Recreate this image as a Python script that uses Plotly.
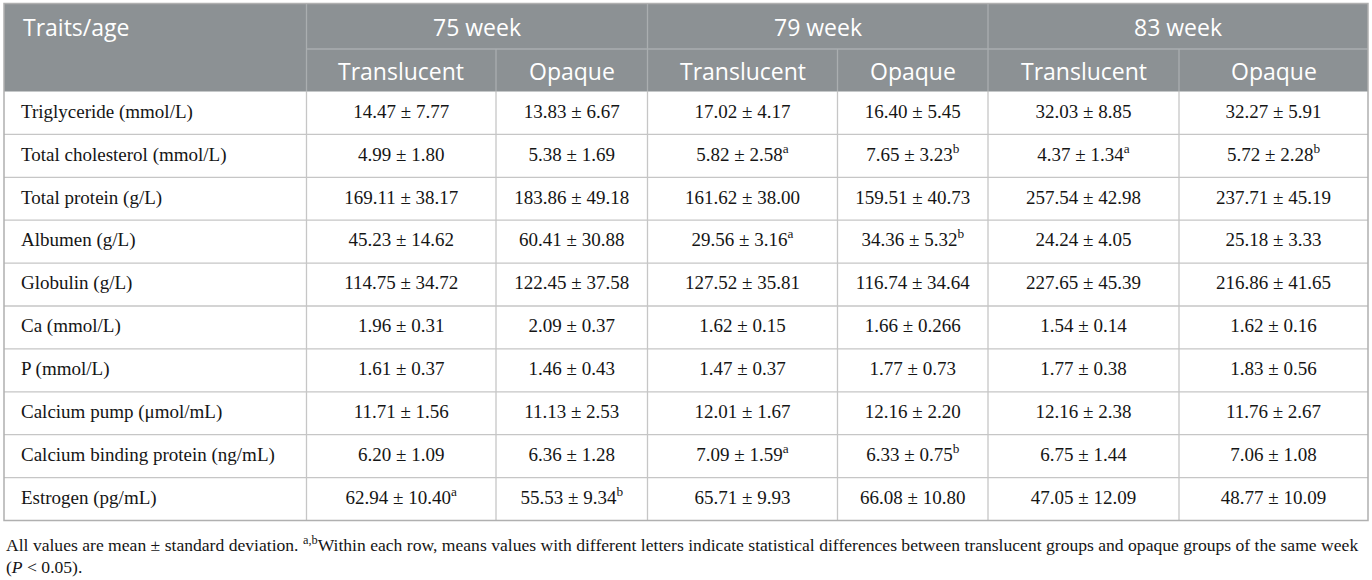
import plotly.graph_objects as go

# ---------------- data ----------------
traits = [
    "Triglyceride (mmol/L)",
    "Total cholesterol (mmol/L)",
    "Total protein (g/L)",
    "Albumen (g/L)",
    "Globulin (g/L)",
    "Ca (mmol/L)",
    "P (mmol/L)",
    "Calcium pump (\u03bcmol/mL)",
    "Calcium binding protein (ng/mL)",
    "Estrogen (pg/mL)",
]
weeks = ["75 week", "79 week", "83 week"]
groups = ["Translucent", "Opaque"]
header_label = "Traits/age"

w75_translucent = ["14.47 \u00b1 7.77", "4.99 \u00b1 1.80", "169.11 \u00b1 38.17", "45.23 \u00b1 14.62",
                   "114.75 \u00b1 34.72", "1.96 \u00b1 0.31", "1.61 \u00b1 0.37", "11.71 \u00b1 1.56",
                   "6.20 \u00b1 1.09", "62.94 \u00b1 10.40"]
w75_opaque = ["13.83 \u00b1 6.67", "5.38 \u00b1 1.69", "183.86 \u00b1 49.18", "60.41 \u00b1 30.88",
              "122.45 \u00b1 37.58", "2.09 \u00b1 0.37", "1.46 \u00b1 0.43", "11.13 \u00b1 2.53",
              "6.36 \u00b1 1.28", "55.53 \u00b1 9.34"]
w79_translucent = ["17.02 \u00b1 4.17", "5.82 \u00b1 2.58", "161.62 \u00b1 38.00", "29.56 \u00b1 3.16",
                   "127.52 \u00b1 35.81", "1.62 \u00b1 0.15", "1.47 \u00b1 0.37", "12.01 \u00b1 1.67",
                   "7.09 \u00b1 1.59", "65.71 \u00b1 9.93"]
w79_opaque = ["16.40 \u00b1 5.45", "7.65 \u00b1 3.23", "159.51 \u00b1 40.73", "34.36 \u00b1 5.32",
              "116.74 \u00b1 34.64", "1.66 \u00b1 0.266", "1.77 \u00b1 0.73", "12.16 \u00b1 2.20",
              "6.33 \u00b1 0.75", "66.08 \u00b1 10.80"]
w83_translucent = ["32.03 \u00b1 8.85", "4.37 \u00b1 1.34", "257.54 \u00b1 42.98", "24.24 \u00b1 4.05",
                   "227.65 \u00b1 45.39", "1.54 \u00b1 0.14", "1.77 \u00b1 0.38", "12.16 \u00b1 2.38",
                   "6.75 \u00b1 1.44", "47.05 \u00b1 12.09"]
w83_opaque = ["32.27 \u00b1 5.91", "5.72 \u00b1 2.28", "237.71 \u00b1 45.19", "25.18 \u00b1 3.33",
              "216.86 \u00b1 41.65", "1.62 \u00b1 0.16", "1.83 \u00b1 0.56", "11.76 \u00b1 2.67",
              "7.06 \u00b1 1.08", "48.77 \u00b1 10.09"]

# significance letters (superscripts)
w75_translucent_sig = ["", "", "", "", "", "", "", "", "", "a"]
w75_opaque_sig = ["", "", "", "", "", "", "", "", "", "b"]
w79_translucent_sig = ["", "a", "", "a", "", "", "", "", "a", ""]
w79_opaque_sig = ["", "b", "", "b", "", "", "", "", "b", ""]
w83_translucent_sig = ["", "a", "", "", "", "", "", "", "", ""]
w83_opaque_sig = ["", "b", "", "", "", "", "", "", "", ""]

footnote_1 = ("All values are mean \u00b1 standard deviation. <sup>a,b</sup>Within each row, means values with "
              "different letters indicate statistical differences between translucent groups and opaque groups of the same week")
footnote_2 = "(<i>P</i> &lt; 0.05)."

value_columns = [w75_translucent, w75_opaque, w79_translucent, w79_opaque, w83_translucent, w83_opaque]
sig_columns = [w75_translucent_sig, w75_opaque_sig, w79_translucent_sig, w79_opaque_sig,
               w83_translucent_sig, w83_opaque_sig]

# ---------------- layout constants ----------------
W, H = 1372, 580
X0 = 4
col_widths = [302.5, 189.5, 151.5, 190, 150.5, 191, 189]
edges = [X0]
for cw in col_widths:
    edges.append(edges[-1] + cw)
TOP = 3.5
MID = 49
HB = 91.5
ROW_H = (520.5 - HB) / len(traits)
BOTTOM = HB + ROW_H * len(traits)

HEADER_BG = "#8c9194"
HEADER_LINE = "#aaaeb0"
GRID = "#c6c6c6"
BORDER = "#b0b0b0"
SERIF = "Liberation Serif"
SANS = "Open Sans"
HFS = 23
DFS = 19
FFS = 17.6

shapes = []
shapes.append(dict(type="rect", xref="x", yref="y", x0=edges[0], x1=edges[-1], y0=TOP, y1=HB,
                   fillcolor=HEADER_BG, line=dict(width=0), layer="below"))
shapes.append(dict(type="line", xref="x", yref="y", x0=edges[1], x1=edges[-1], y0=MID, y1=MID,
                   line=dict(color=HEADER_LINE, width=1.3)))
for i in range(1, len(edges) - 1):
    y0 = TOP if i % 2 == 1 else MID
    shapes.append(dict(type="line", xref="x", yref="y", x0=edges[i], x1=edges[i], y0=y0, y1=HB,
                       line=dict(color=HEADER_LINE, width=1.3)))
for r in range(1, len(traits)):
    y = HB + r * ROW_H
    shapes.append(dict(type="line", xref="x", yref="y", x0=edges[0], x1=edges[-1], y0=y, y1=y,
                       line=dict(color=GRID, width=1.3)))
for i in range(1, len(edges) - 1):
    shapes.append(dict(type="line", xref="x", yref="y", x0=edges[i], x1=edges[i], y0=HB, y1=BOTTOM,
                       line=dict(color=GRID, width=1.3)))
shapes.append(dict(type="rect", xref="x", yref="y", x0=edges[0], x1=edges[-1], y0=TOP, y1=BOTTOM,
                   line=dict(color=BORDER, width=1.5), fillcolor="rgba(0,0,0,0)"))

annotations = []
annotations.append(dict(x=edges[0] + 17, y=(TOP + MID) / 2 + 1, xref="x", yref="y", text=header_label,
                        showarrow=False, xanchor="left", yanchor="middle",
                        font=dict(family=SANS, size=HFS, color="white")))
for k, wk in enumerate(weeks):
    xc = (edges[1 + 2 * k] + edges[3 + 2 * k]) / 2
    annotations.append(dict(x=xc, y=(TOP + MID) / 2 + 1, xref="x", yref="y", text=wk, showarrow=False,
                            xanchor="center", yanchor="middle",
                            font=dict(family=SANS, size=HFS, color="white")))
    for g, grp in enumerate(groups):
        c = 1 + 2 * k + g
        xg = (edges[c] + edges[c + 1]) / 2
        annotations.append(dict(x=xg, y=(MID + HB) / 2 + 1, xref="x", yref="y", text=grp,
                                showarrow=False, xanchor="center", yanchor="middle",
                                font=dict(family=SANS, size=HFS, color="white")))

fig = go.Figure()

row_centers = [HB + (r + 0.5) * ROW_H for r in range(len(traits))]
fig.add_trace(go.Scatter(x=[edges[0] + 17] * len(traits), y=row_centers, mode="text", text=traits,
                         textposition="middle right",
                         textfont=dict(family=SERIF, size=DFS, color="#151515"),
                         hoverinfo="skip", showlegend=False))
for c, (vals, sigs) in enumerate(zip(value_columns, sig_columns)):
    xc = (edges[c + 1] + edges[c + 2]) / 2
    texts = [v + (f"<sup>{s}</sup>" if s else "") for v, s in zip(vals, sigs)]
    fig.add_trace(go.Scatter(x=[xc] * len(texts), y=row_centers, mode="text", text=texts,
                             textposition="middle center",
                             textfont=dict(family=SERIF, size=DFS, color="#151515"),
                             hoverinfo="skip", showlegend=False))

annotations.append(dict(x=edges[0], y=544, xref="x", yref="y", text=footnote_1, showarrow=False,
                        xanchor="left", yanchor="middle",
                        font=dict(family=SERIF, size=FFS, color="#151515")))
annotations.append(dict(x=edges[0], y=567, xref="x", yref="y", text=footnote_2, showarrow=False,
                        xanchor="left", yanchor="middle",
                        font=dict(family=SERIF, size=FFS, color="#151515")))

fig.update_layout(
    width=W, height=H,
    margin=dict(l=0, r=0, t=0, b=0),
    paper_bgcolor="white", plot_bgcolor="white",
    xaxis=dict(range=[0, W], visible=False, fixedrange=True),
    yaxis=dict(range=[H, 0], visible=False, fixedrange=True),
    shapes=shapes, annotations=annotations,
    showlegend=False,
)

fig.write_html("out.html", config={"displayModeBar": False, "staticPlot": True},
               post_script="document.body.style.margin='0';document.body.style.overflow='hidden';")
